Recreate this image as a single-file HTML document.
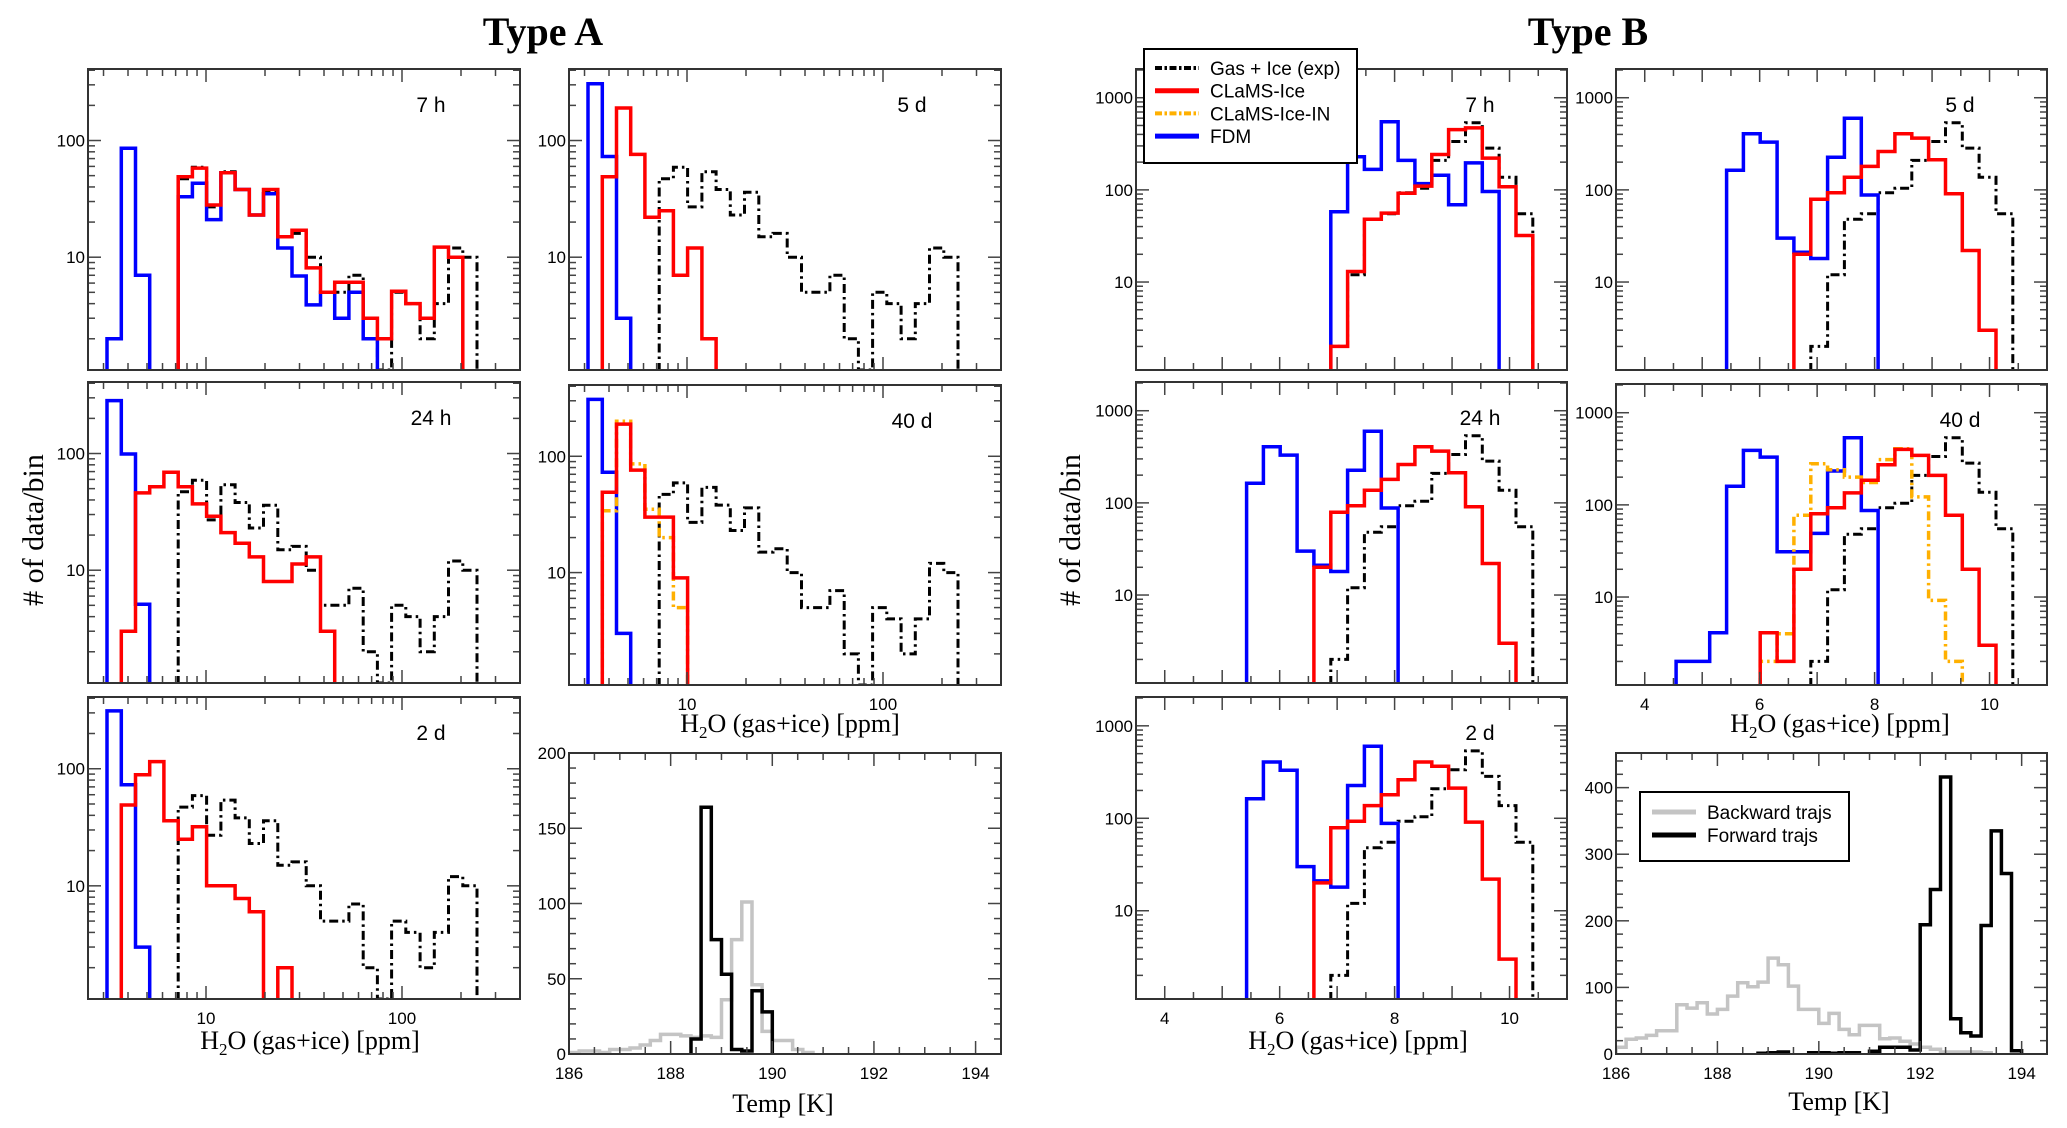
<!DOCTYPE html>
<html><head><meta charset="utf-8"><style>
html,body{margin:0;padding:0;background:#fff;}
svg{display:block;}
text{font-family:"Liberation Sans",sans-serif;}
.serif{font-family:"Liberation Serif",serif;}
</style></head><body>
<svg id="fig" width="2067" height="1128" viewBox="0 0 2067 1128" xmlns="http://www.w3.org/2000/svg">
<rect x="0" y="0" width="2067" height="1128" fill="#fff"/>
<text class="serif" x="543" y="45" font-size="40" text-anchor="middle" font-weight="bold">Type A</text>
<text class="serif" x="1588" y="45" font-size="40" text-anchor="middle" font-weight="bold">Type B</text>
<text class="serif" x="0" y="0" font-size="30" text-anchor="middle" transform="translate(43,530) rotate(-90)"># of data/bin</text>
<text class="serif" x="0" y="0" font-size="30" text-anchor="middle" transform="translate(1080,530) rotate(-90)"># of data/bin</text>
<g id="plots"></g>
</svg>
<script>
// ---------- DATA ----------
const aBinStartLog = 0.495, aBinStepLog = 0.0726;
const bBinStart = 4.545, bBinStep = 0.293;
const tBinStart = 186.0, tBinStep = 0.2;

const aExp = [0,0,0,0,0,47,59,27,54,38,23,36,15,16,10,5,5,7,2,1,5,4,2,4,12,10];
const a7hFDM = [2,86,7,0,0,33,43,21,53,38,23,35,12,6.9,3.9,5,3,5,2];
const a7hIce = [0,0,0,0,0,49,58,28,53,38,23,38,15,17,8.1,5,6.1,6.1,3,2,5.1,4,3,12.2,10];
const a5dFDM = [306,73,3];
const a5dIce = [0,49,190,76,22,25,7,12,2];
const a24hFDM = [284,99,5.1];
const a24hIce = [0,3,46,52,69,52,37,29,21,17,13,8,8,11.3,13,3];
const a40dFDM = [308,73,3];
const a40dIce = [0,49,189,76,30,30,9];
const a40dIceIN = [0,34,200,86,35,20,5];
const a2dFDM = [312,73,3];
const a2dIce = [0,49,89,115,36,25,32,10,10,7.8,6,0,2];

const bExp = [0,0,0,0,0,0,0,0,2,12,48,55,93,104,209,335,535,284,137,55];
const b7hFDM = [0,0,0,0,0,0,0,0,58,229,167,550,209,117,144,69,196,96];
const b7hIce = [0,0,0,0,0,0,0,0,2,13,48,56,92,110,242,451,470,221,108,32];
const bFDM = [0,0,0,163,406,330,30,21,18,226,600,88];
const bIce = [0,0,0,0,0,0,0,20,79,93,137,180,261,406,365,212,91,22,3];
const b40dFDM = [2,2,4.1,159,390,330,31,31,49,233,536,87];
const b40dIce = [0,0,0,0,0,4.1,2,20,80,93,135,185,273,400,344,209,77,20,3];
const b40dIceIN = [0,0,0,0,0,2,4,77,280,240,200,175,310,407,122,9.2,2];

const tABack = [1,2,2,1,3,3,4,6,9,13,13,12,11,12,11,36,76,101,46,15,9,9,3,1];
const tAFwd = [0,0,0,0,0,0,0,0,0,0,0,0,10,164,76,53,3,2,42,28];
const tBBack = [10,22,24,28,35,35,74,69,77,60,67,87,107,101,108,144,134,102,67,67,46,61,37,29,43,43,23,24,19,15,10,7,3,3,3,3,2];
const tBFwd = [0,0,0,0,0,0,0,0,0,0,0,0,0,0,1,2,3,0,0,2,2,1,2,2,0,4,10,10,10,6,194,247,416,53,32,27,193,335,271,5];

const aXTicksMajor = [10,100];
const aXTickLabels = ["10","100"];
const aYTicksMajor = [10,100];
const aYTickLabels = ["10","100"];
const bYTicksMajor = [10,100,1000];
const bYTickLabels = ["10","100","1000"];
const bXTickLabelVals = [4,6,8,10];
const tXTickLabelVals = [186,188,190,192,194];
const tAYTickVals = [0,50,100,150,200];
const tBYTickVals = [0,100,200,300,400];

// ---------- RENDER ----------
const NS = "http://www.w3.org/2000/svg";
const root = document.getElementById('plots');
function mk(tag, attrs, parent){
  const el = document.createElementNS(NS, tag);
  for (const k in attrs) el.setAttribute(k, attrs[k]);
  (parent||root).appendChild(el);
  return el;
}
const L10 = Math.log10;
const COL = {exp:'#000', ice:'#ff0000', icein:'#ffb000', fdm:'#0000ff', back:'#c4c4c4', fwd:'#000'};
const DASH = '9,4,2.5,4';

function makePanel(name, box, xs, ys){
  const p = Object.assign({name}, box, xs, ys);
  p.X = v => {
    if (p.xlog) return p.x0 + (L10(v)-L10(p.xmin))/(L10(p.xmax)-L10(p.xmin))*(p.x1-p.x0);
    return p.x0 + (v-p.xmin)/(p.xmax-p.xmin)*(p.x1-p.x0);
  };
  p.Y = v => {
    if (p.ylog){ const vv = Math.max(v, p.ymin); return p.y1 - (L10(vv)-L10(p.ymin))/(L10(p.ymax)-L10(p.ymin))*(p.y1-p.y0); }
    return p.y1 - (Math.max(v,p.ymin)-p.ymin)/(p.ymax-p.ymin)*(p.y1-p.y0);
  };
  const g = mk('g', {});
  
  
  p.g = g;
  const cp = mk('clipPath', {id:'clip-'+name}, g);
  mk('rect', {x:p.x0, y:p.y0, width:p.x1-p.x0, height:p.y1-p.y0}, cp);
  p.series = mk('g', {'clip-path':'url(#clip-'+name+')'}, g);
  return p;
}

function tick(p, isX, v, len){
  if (isX){
    const x = p.X(v);
    const t1 = mk('line', {x1:x, x2:x, y1:p.y1, y2:p.y1-len, stroke:'#444', 'stroke-width':1.5}, p.g);
    
    
    mk('line', {x1:x, x2:x, y1:p.y0, y2:p.y0+len, stroke:'#444', 'stroke-width':1.5}, p.g);
  } else {
    const y = p.Y(v);
    const t1 = mk('line', {x1:p.x0, x2:p.x0+len, y1:y, y2:y, stroke:'#444', 'stroke-width':1.5}, p.g);
    
    
    mk('line', {x1:p.x1, x2:p.x1-len, y1:y, y2:y, stroke:'#444', 'stroke-width':1.5}, p.g);
  }
}
function label(p, x, y, txt, anchor, nm, size){
  const t = mk('text', {x:x, y:y, 'font-size':size||17, 'text-anchor':anchor, fill:'#000'}, p.g);
  t.textContent = txt;
  
  
  return t;
}
function frame(p){
  const r = mk('rect', {x:p.x0, y:p.y0, width:p.x1-p.x0, height:p.y1-p.y0, fill:'none', stroke:'#333', 'stroke-width':2}, p.g);
  
  
}
function logTicks(p, isX, lo, hi){
  for (let d = Math.floor(L10(lo)); d <= Math.ceil(L10(hi)); d++){
    for (let m = 1; m <= 9; m++){
      const v = m*Math.pow(10,d);
      if (v < lo || v > hi) continue;
      tick(p, isX, v, m===1 ? 13 : 7);
    }
  }
}
function linTicks(p, isX, lo, hi, step, majorEvery){
  const n = Math.round((hi-lo)/step);
  for (let i=0;i<=n;i++){
    const v = lo + i*step;
    tick(p, isX, v, (Math.abs(v/majorEvery - Math.round(v/majorEvery))<1e-6) ? 13 : 7);
  }
}
function hist(p, vals, edgeFn, color, dash, width, nm){
  let first=-1, last=-1;
  vals.forEach((v,i)=>{ if (v>0){ if(first<0) first=i; last=i; } });
  if (first<0) return;
  const base = p.y1 + 2;
  let d = 'M'+p.X(edgeFn(first)).toFixed(1)+','+base;
  for (let i=first;i<=last;i++){
    const y = vals[i]>0 ? p.Y(vals[i]) : base;
    d += ' L'+p.X(edgeFn(i)).toFixed(1)+','+y.toFixed(1)+' L'+p.X(edgeFn(i+1)).toFixed(1)+','+y.toFixed(1);
  }
  d += ' L'+p.X(edgeFn(last+1)).toFixed(1)+','+base;
  const a = {d:d, fill:'none', stroke:color, 'stroke-width':width, 'stroke-linejoin':'miter'};
  if (dash) a['stroke-dasharray'] = dash;
  const el = mk('path', a, p.series);
  
  
}
const aEdge = k => Math.pow(10, aBinStartLog + aBinStepLog*k);
const bEdge = k => bBinStart + bBinStep*k;
const tEdge = k => tBinStart + tBinStep*k;

function axisTitleH2O(x, y, nm){
  const t = mk('text', {x:x, y:y, 'font-size':26, 'text-anchor':'middle', class:'serif'});
  
  
  t.innerHTML = 'H<tspan font-size="17" dy="6">2</tspan><tspan dy="-6">O (gas+ice) [ppm]</tspan>';
}
function axisTitle(x, y, txt, nm){
  const t = mk('text', {x:x, y:y, 'font-size':26, 'text-anchor':'middle', class:'serif'});
  t.textContent = txt;
  
  
}

// ---- Type A panels ----
const aXs = {xlog:true, xmin:2.5, xmax:400};
const aYs = {ylog:true, ymin:1.08, ymax:410};
const aPanels = [
  ['panel-a-7h', {x0:88,x1:520,y0:69,y1:370}, '7 h', [[aExp,'exp'],[a7hFDM,'fdm'],[a7hIce,'ice']], false],
  ['panel-a-5d', {x0:569,x1:1001,y0:69,y1:370}, '5 d', [[aExp,'exp'],[a5dFDM,'fdm'],[a5dIce,'ice']], false],
  ['panel-a-24h', {x0:88,x1:520,y0:382,y1:683}, '24 h', [[aExp,'exp'],[a24hFDM,'fdm'],[a24hIce,'ice']], false],
  ['panel-a-40d', {x0:569,x1:1001,y0:385,y1:685}, '40 d', [[aExp,'exp'],[a40dFDM,'fdm'],[a40dIceIN,'icein'],[a40dIce,'ice']], true],
  ['panel-a-2d', {x0:88,x1:520,y0:697,y1:999}, '2 d', [[aExp,'exp'],[a2dFDM,'fdm'],[a2dIce,'ice']], true]
];
aPanels.forEach(cfg=>{
  const p = makePanel(cfg[0], cfg[1], aXs, aYs);
  cfg[3].forEach(s=>{
    const c = s[1];
    hist(p, s[0], aEdge, COL[c], (c==='exp'||c==='icein')?DASH:null, c==='exp'?3:3.5, 'series-'+c);
  });
  logTicks(p, true, 3, 400);
  logTicks(p, false, 2, 400);
  frame(p);
  aYTicksMajor.forEach((v,i)=> label(p, p.x0-3, p.Y(v)+6, aYTickLabels[i], 'end', 'y-tick-label'));
  if (cfg[4]) aXTicksMajor.forEach((v,i)=> label(p, p.X(v), p.y1+25, aXTickLabels[i], 'middle', 'x-tick-label'));
  label(p, p.x1-89, p.y0+43, cfg[2], 'middle', 'panel-label', 21);
});

// ---- Type B panels ----
const bXs = {xlog:false, xmin:3.5, xmax:11.0};
const bYs = {ylog:true, ymin:1.11, ymax:2050};
const bPanels = [
  ['panel-b-7h', {x0:1136,x1:1567,y0:69,y1:370}, '7 h', [[bExp,'exp'],[b7hFDM,'fdm'],[b7hIce,'ice']], false],
  ['panel-b-5d', {x0:1616,x1:2047,y0:69,y1:370}, '5 d', [[bExp,'exp'],[bFDM,'fdm'],[bIce,'ice']], false],
  ['panel-b-24h', {x0:1136,x1:1567,y0:382,y1:683}, '24 h', [[bExp,'exp'],[bFDM,'fdm'],[bIce,'ice']], false],
  ['panel-b-40d', {x0:1616,x1:2047,y0:384,y1:685}, '40 d', [[bExp,'exp'],[b40dFDM,'fdm'],[b40dIceIN,'icein'],[b40dIce,'ice']], true],
  ['panel-b-2d', {x0:1136,x1:1567,y0:697,y1:999}, '2 d', [[bExp,'exp'],[bFDM,'fdm'],[bIce,'ice']], true]
];
bPanels.forEach(cfg=>{
  const p = makePanel(cfg[0], cfg[1], bXs, bYs);
  cfg[3].forEach(s=>{
    const c = s[1];
    hist(p, s[0], bEdge, COL[c], (c==='exp'||c==='icein')?DASH:null, c==='exp'?3:3.5, 'series-'+c);
  });
  linTicks(p, true, 4, 10.5, 0.5, 1);
  logTicks(p, false, 2, 2000);
  frame(p);
  bYTicksMajor.forEach((v,i)=> label(p, p.x0-3, p.Y(v)+6, bYTickLabels[i], 'end', 'y-tick-label'));
  if (cfg[4]) bXTickLabelVals.forEach(v=> label(p, p.X(v), p.y1+25, String(v), 'middle', 'x-tick-label'));
  label(p, p.x1-87, p.y0+43, cfg[2], 'middle', 'panel-label', 21);
});

// ---- Temperature panels ----
const tXs = {xlog:false, xmin:186, xmax:194.5};
const tA = makePanel('panel-a-temp', {x0:569,x1:1001,y0:753,y1:1054}, tXs, {ylog:false, ymin:0, ymax:200});
hist(tA, tABack, tEdge, COL.back, null, 3.5, 'series-backward-trajs');
hist(tA, tAFwd, tEdge, COL.fwd, null, 3.5, 'series-forward-trajs');
linTicks(tA, true, 186, 194.5, 0.5, 2);
linTicks(tA, false, 0, 200, 10, 50);
frame(tA);
tAYTickVals.forEach(v=> label(tA, tA.x0-3, tA.Y(v)+6, String(v), 'end', 'y-tick-label'));
tXTickLabelVals.forEach(v=> label(tA, tA.X(v), tA.y1+25, String(v), 'middle', 'x-tick-label'));

const tB = makePanel('panel-b-temp', {x0:1616,x1:2047,y0:753,y1:1054}, tXs, {ylog:false, ymin:0, ymax:452});
hist(tB, tBBack, tEdge, COL.back, null, 3.5, 'series-backward-trajs');
hist(tB, tBFwd, tEdge, COL.fwd, null, 3.5, 'series-forward-trajs');
linTicks(tB, true, 186, 194.5, 0.5, 2);
linTicks(tB, false, 0, 440, 20, 100);
frame(tB);
tBYTickVals.forEach(v=> label(tB, tB.x0-3, tB.Y(v)+6, String(v), 'end', 'y-tick-label'));
tXTickLabelVals.forEach(v=> label(tB, tB.X(v), tB.y1+25, String(v), 'middle', 'x-tick-label'));

// ---- axis titles ----
axisTitleH2O(310, 1049, 'x-axis-title-a-left');
axisTitleH2O(790, 732, 'x-axis-title-a-right');
axisTitle(783, 1112, 'Temp [K]', 'x-axis-title-a-temp');
axisTitleH2O(1358, 1049, 'x-axis-title-b-left');
axisTitleH2O(1840, 732, 'x-axis-title-b-right');
axisTitle(1839, 1110, 'Temp [K]', 'x-axis-title-b-temp');

// ---- legends ----
function legend(nm, box, entries, fs){
  const g = mk('g', {});
  
  
  mk('rect', {x:box.x, y:box.y, width:box.w, height:box.h, fill:'#fff', stroke:'#000', 'stroke-width':2}, g);
  entries.forEach((e,i)=>{
    const y = box.ry + i*box.dy;
    const ln = mk('line', {x1:box.lx0, x2:box.lx1, y1:y, y2:y, stroke:e[1], 'stroke-width':e[3]||5}, g);
    if (e[2]) ln.setAttribute('stroke-dasharray', e[2]);
    
    
    const t = mk('text', {x:box.tx, y:y+7, 'font-size':fs}, g);
    t.textContent = e[0];
    
    
  });
}
legend('legend-models', {x:1144,y:49,w:213,h:114,lx0:1155,lx1:1199,tx:1210,ry:68,dy:22.7},
  [['Gas + Ice (exp)','#000','7,2.5,2.5,2.5',4],['CLaMS-Ice','#ff0000',null,5],['CLaMS-Ice-IN','#ffb000','7,2.5,2.5,2.5',4],['FDM','#0000ff',null,5]], 19);
legend('legend-trajs', {x:1640,y:792,w:209,h:69,lx0:1652,lx1:1696,tx:1707,ry:812,dy:23},
  [['Backward trajs','#c4c4c4',null,5],['Forward trajs','#000',null,5]], 19);
</script>
</body></html>
